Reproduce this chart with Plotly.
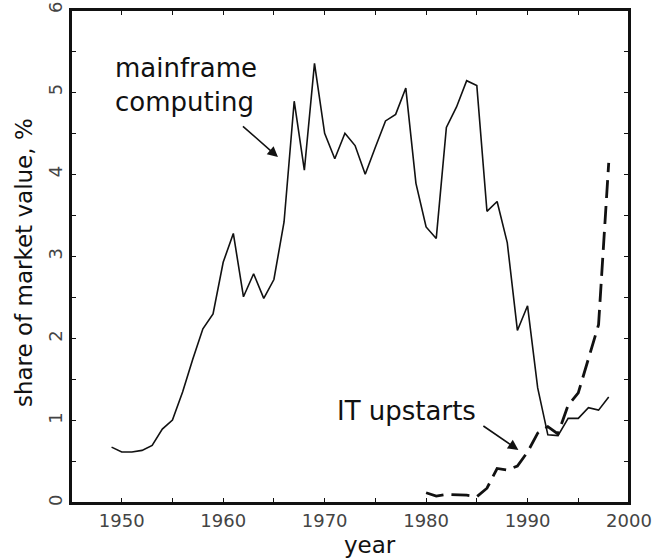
import plotly.graph_objects as go

mf_years = list(range(1949, 1999))
mf_values = [0.68, 0.62, 0.62, 0.64, 0.70, 0.90, 1.01, 1.35, 1.75, 2.12,
             2.30, 2.93, 3.28, 2.51, 2.79, 2.49, 2.72, 3.42, 4.89, 4.05,
             5.35, 4.50, 4.19, 4.50, 4.35, 4.00, 4.33, 4.65, 4.73, 5.05,
             3.89, 3.36, 3.22, 4.57, 4.82, 5.14, 5.08, 3.55, 3.67, 3.17,
             2.10, 2.40, 1.40, 0.83, 0.82, 1.03, 1.03, 1.16, 1.13, 1.29]

it_years = list(range(1980, 1999))
it_values = [0.125, 0.085, 0.105, 0.10, 0.095, 0.077, 0.18, 0.42, 0.40, 0.45,
             0.62, 0.85, 0.93, 0.84, 1.19, 1.34, 1.76, 2.17, 4.14]

x_tickvals = list(range(1950, 2001, 5))
x_ticktext = [str(v) if v % 10 == 0 else "" for v in x_tickvals]
y_tickvals = [i * 0.5 for i in range(13)]
y_ticktext = [str(int(v)) if v == int(v) else "" for v in y_tickvals]

FONT = "DejaVu Sans"

fig = go.Figure()
fig.add_trace(go.Scatter(x=mf_years, y=mf_values, mode="lines",
                         line=dict(color="#111111", width=1.6), showlegend=False))
fig.add_trace(go.Scatter(x=it_years, y=it_values, mode="lines",
                         line=dict(color="#111111", width=2.8, dash="18px,8px"),
                         showlegend=False))

axis_common = dict(showgrid=False, zeroline=False, showline=True, linecolor="#111111",
                   linewidth=2, mirror="allticks", ticks="inside", ticklen=5,
                   tickcolor="#111111", tickwidth=1, automargin=False,
                   ticklabeloverflow="allow",
                   tickfont=dict(family=FONT, size=18, color="#444444"))

fig.update_xaxes(range=[1945, 2000], tickmode="array", tickvals=x_tickvals,
                 ticktext=x_ticktext, **axis_common)
fig.update_yaxes(range=[0, 6], tickmode="array", tickvals=y_tickvals,
                 ticktext=y_ticktext, tickangle=-90, **axis_common)

# plot frame
fig.add_shape(type="rect", xref="paper", yref="paper", x0=0, y0=0, x1=1, y1=1,
              line=dict(color="#111111", width=2), layer="above")

fig.add_annotation(xref="paper", yref="paper", x=0.536, y=-0.085, text="year",
                   showarrow=False, font=dict(family=FONT, size=23, color="#111111"),
                   xanchor="center", yanchor="middle")
fig.add_annotation(xref="paper", yref="paper", x=-0.084, y=0.487,
                   text="share of market value, %", textangle=-90,
                   showarrow=False, font=dict(family=FONT, size=23, color="#111111"),
                   xanchor="center", yanchor="middle")

fig.add_annotation(x=1949.1, y=5.09, text="mainframe<br>computing", showarrow=False,
                   xanchor="left", yanchor="middle", align="left",
                   font=dict(family=FONT, size=26, color="#111111"))
fig.add_annotation(x=1965.4, y=4.21, ax=1961.8, ay=4.6, axref="x", ayref="y",
                   text="", showarrow=True, arrowhead=2, arrowsize=1.3,
                   arrowwidth=1.6, arrowcolor="#111111")

fig.add_annotation(x=1978.1, y=1.12, text="IT upstarts", showarrow=False,
                   xanchor="center", yanchor="middle",
                   font=dict(family=FONT, size=26, color="#111111"))
fig.add_annotation(x=1989.1, y=0.645, ax=1985.5, ay=0.95, axref="x", ayref="y",
                   text="", showarrow=True, arrowhead=2, arrowsize=1.3,
                   arrowwidth=1.6, arrowcolor="#111111")

fig.update_layout(template="none", width=653, height=558,
                  margin=dict(l=71, r=24, t=10, b=55, autoexpand=False),
                  plot_bgcolor="white", paper_bgcolor="white")

fig.write_html("out.html", config={"displayModeBar": False},
               post_script="document.body.style.margin='0px';document.body.style.overflow='hidden';")
